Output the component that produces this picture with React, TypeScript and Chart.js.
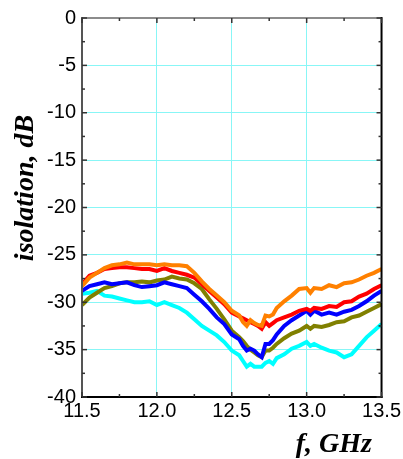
import React, { useEffect, useRef } from "react";
import { Chart, registerables } from "chart.js";

Chart.register(...registerables);

// ---- data ----
const freqGHz = [
  11.5, 11.55, 11.6, 11.65, 11.7, 11.75, 11.8, 11.85, 11.9, 11.95, 12.0, 12.05,
  12.1, 12.15, 12.2, 12.25, 12.3, 12.35, 12.4, 12.45, 12.5, 12.55, 12.575, 12.6,
  12.625, 12.65, 12.675, 12.7, 12.725, 12.75, 12.775, 12.8, 12.85, 12.9, 12.95,
  13.0, 13.025, 13.05, 13.1, 13.15, 13.2, 13.25, 13.3, 13.35, 13.4, 13.45, 13.5,
];

const orangeSeries = [
  -28.3, -27.4, -26.9, -26.4, -26.1, -26.0, -25.8, -26.0, -26.0, -26.0, -26.1, -26.0,
  -26.1, -26.1, -26.2, -26.9, -27.8, -28.6, -29.3, -30.0, -30.9, -31.4, -32.1, -32.5,
  -31.9, -32.2, -32.4, -32.5, -31.4, -31.5, -31.3, -30.6, -29.9, -29.3, -28.6,
  -28.5, -29.0, -28.5, -28.6, -28.2, -28.4, -28.0, -27.9, -27.6, -27.2, -26.9, -26.5,
];

const redSeries = [
  -28.1, -27.2, -26.9, -26.5, -26.4, -26.3, -26.3, -26.4, -26.5, -26.5, -26.7, -26.4,
  -26.7, -26.9, -27.1, -27.4, -28.1, -28.8, -29.5, -30.2, -31.1, -31.5, -31.7, -31.9,
  -32.1, -32.3, -32.5, -32.8, -32.1, -32.5, -32.2, -31.9, -31.6, -31.3, -30.9,
  -30.7, -30.9, -30.6, -30.7, -30.4, -30.5, -30.0, -29.9, -29.4, -29.1, -28.6, -28.2,
];

const blueSeries = [
  -28.8, -28.3, -28.1, -27.9, -28.1, -28.0, -27.9, -28.2, -28.4, -28.3, -28.2, -27.9,
  -28.1, -28.3, -28.5, -29.2, -29.9, -30.7, -31.6, -32.3, -33.4, -33.9, -34.6, -35.1,
  -34.9, -35.1, -35.5, -35.8, -34.4, -34.4, -34.0, -33.4, -32.5, -31.9, -31.4,
  -30.9, -31.3, -30.9, -31.3, -31.1, -31.3, -31.0, -30.8, -30.4, -29.9, -29.3, -28.8,
];

const oliveSeries = [
  -30.3, -29.5, -29.0, -28.5, -28.3, -28.0, -27.9, -27.9, -27.8, -27.9, -27.7, -27.6,
  -27.3, -27.5, -27.6, -28.0, -28.6, -29.7, -30.7, -31.8, -33.0, -33.7, -34.1, -34.6,
  -35.0, -35.3, -35.6, -35.8, -35.1, -35.1, -34.8, -34.4, -33.8, -33.3, -33.0,
  -32.5, -32.8, -32.5, -32.6, -32.4, -32.1, -32.0, -31.6, -31.4, -31.0, -30.6, -30.2,
];

const cyanSeries = [
  -29.1, -29.0, -28.8, -29.3, -29.4, -29.6, -29.8, -30.0, -30.0, -29.9, -30.3, -30.0,
  -30.3, -30.6, -31.1, -31.8, -32.5, -33.0, -33.5, -34.2, -35.1, -35.6, -36.2, -36.8,
  -36.5, -36.8, -36.8, -36.8, -36.4, -36.2, -36.5, -35.9, -35.5, -34.9, -34.6,
  -34.2, -34.6, -34.4, -34.8, -35.1, -35.3, -35.8, -35.5, -34.6, -33.7, -33.0, -32.3,
];

const xMajorTicks = [11.5, 12.0, 12.5, 13.0, 13.5];
const xMinorTicks = [11.75, 12.25, 12.75, 13.25];
const yMajorTicks = [0, -5, -10, -15, -20, -25, -30, -35, -40];
const yMinorTicks = [-2.5, -7.5, -12.5, -17.5, -22.5, -27.5, -32.5, -37.5];

const xTitle = "f, GHz";
const yTitle = "isolation, dB";

const TICK_FONT = '"Liberation Sans", Arial, sans-serif';
const TITLE_FONT = 'italic bold 28px "Liberation Serif", "Times New Roman", serif';

const framePlugin = {
  id: "frameAndTitles",
  afterDatasetsDraw(chart: any) {
    const { ctx, chartArea } = chart;
    const { left, right, top, bottom } = chartArea;
    const xs = chart.scales.x;
    const ys = chart.scales.y;
    ctx.save();
    ctx.lineWidth = 2;
    const seg = (x1: number, y1: number, x2: number, y2: number, c: string) => {
      ctx.strokeStyle = c;
      ctx.beginPath();
      ctx.moveTo(x1, y1);
      ctx.lineTo(x2, y2);
      ctx.stroke();
    };
    // frame
    seg(left, top, right, top, "#8c8c8c");
    seg(left, top - 1, left, bottom + 1, "#555555");
    seg(right, top - 1, right, bottom + 1, "#000000");
    seg(left - 1, bottom, right + 1, bottom, "#000000");
    // inward ticks
    ctx.lineWidth = 1.5;
    for (const v of yMajorTicks) {
      const p = ys.getPixelForValue(v);
      seg(left, p, left + 5, p, "#333333");
      seg(right, p, right - 5, p, "#333333");
    }
    for (const v of yMinorTicks) {
      const p = ys.getPixelForValue(v);
      seg(left, p, left + 3, p, "#333333");
      seg(right, p, right - 3, p, "#333333");
    }
    for (const v of xMajorTicks) {
      const p = xs.getPixelForValue(v);
      seg(p, bottom, p, bottom - 5, "#333333");
      seg(p, top, p, top + 5, "#333333");
    }
    for (const v of xMinorTicks) {
      const p = xs.getPixelForValue(v);
      seg(p, bottom, p, bottom - 3, "#333333");
      seg(p, top, p, top + 3, "#333333");
    }
    ctx.restore();
  },
  afterDraw(chart: any) {
    const { ctx } = chart;
    ctx.save();
    ctx.fillStyle = "#000000";
    ctx.font = TITLE_FONT;
    // y title (rotated)
    ctx.save();
    ctx.translate(33, 188);
    ctx.rotate(-Math.PI / 2);
    ctx.textAlign = "center";
    ctx.textBaseline = "alphabetic";
    ctx.fillText(yTitle, 0, 0);
    ctx.restore();
    // x title
    ctx.textAlign = "right";
    ctx.textBaseline = "alphabetic";
    ctx.fillText(xTitle, 372, 452);
    ctx.restore();
  },
};

export default function App() {
  const canvasRef = useRef<HTMLCanvasElement | null>(null);

  useEffect(() => {
    const canvas = canvasRef.current;
    if (!canvas) return;
    const mk = (label: string, data: number[], color: string) => ({
      label,
      data: freqGHz.map((f, i) => ({ x: f, y: data[i] })),
      borderColor: color,
      backgroundColor: color,
      borderWidth: 4,
      pointRadius: 0,
      tension: 0,
      fill: false,
    });
    const chart = new Chart(canvas, {
      type: "line",
      data: {
        datasets: [
          mk("orange", orangeSeries, "#ff8000"),
          mk("red", redSeries, "#ff0000"),
          mk("blue", blueSeries, "#0000ff"),
          mk("olive", oliveSeries, "#808000"),
          mk("cyan", cyanSeries, "#00ffff"),
        ],
      },
      options: {
        animation: false,
        responsive: false,
        maintainAspectRatio: false,
        layout: { autoPadding: false, padding: { left: 0, top: 15, right: 21, bottom: 0 } },
        plugins: { legend: { display: false }, tooltip: { enabled: false } },
        scales: {
          x: {
            type: "linear",
            min: 11.5,
            max: 13.5,
            afterBuildTicks: (scale: any) => {
              scale.ticks = xMajorTicks.map((v) => ({ value: v }));
            },
            afterFit: (scale: any) => {
              scale.height = 62;
            },
            ticks: {
              padding: 2,
              color: "#000000",
              maxRotation: 0,
              autoSkip: false,
              font: { family: TICK_FONT, size: 20 },
              callback: (v: any) => Number(v).toFixed(1),
            },
            grid: { color: "#88f6f6", lineWidth: 1, drawTicks: false },
            border: { display: false },
          },
          y: {
            type: "linear",
            min: -40,
            max: 0,
            afterBuildTicks: (scale: any) => {
              scale.ticks = yMajorTicks.map((v) => ({ value: v }));
            },
            afterFit: (scale: any) => {
              scale.width = 82;
            },
            ticks: {
              padding: 6,
              color: "#000000",
              autoSkip: false,
              font: { family: TICK_FONT, size: 20 },
              callback: (v: any) => String(v),
            },
            grid: { color: "#88f6f6", lineWidth: 1, drawTicks: false },
            border: { display: false },
          },
        },
      },
      plugins: [framePlugin],
    } as any);
    return () => chart.destroy();
  }, []);

  return (
    <div style={{ position: "absolute", left: 0, top: 0, width: 403, height: 459, background: "#ffffff" }}>
      <canvas ref={canvasRef} width={403} height={459} style={{ display: "block" }} />
    </div>
  );
}
